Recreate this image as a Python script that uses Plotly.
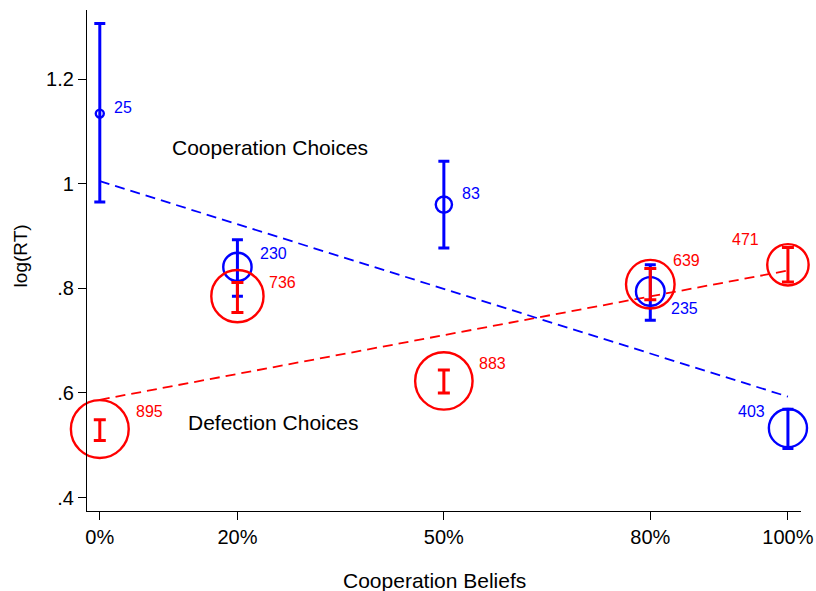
import plotly.graph_objects as go

# ---- data ----
beliefs = [0, 20, 50, 80, 100]
tick_labels = ["0%", "20%", "50%", "80%", "100%"]

coop_mean = [1.134, 0.841, 0.960, 0.794, 0.533]
coop_lo = [0.965, 0.785, 0.877, 0.739, 0.494]
coop_hi = [1.306, 0.893, 1.043, 0.845, 0.569]
coop_n = [25, 230, 83, 235, 403]
coop_fit = [1.005, 0.593]

def_mean = [0.531, 0.785, 0.623, 0.808, 0.845]
def_lo = [0.509, 0.754, 0.600, 0.778, 0.812]
def_hi = [0.549, 0.811, 0.644, 0.838, 0.878]
def_n = [895, 736, 883, 639, 471]
def_fit = [0.587, 0.834]
fit_x = [0, 100]

x_title = "Cooperation Beliefs"
y_title = "log(RT)"

# label placement (pixel offsets, anchor) – style only
coop_lab = [(12, 6, "left"), (21, 13, "left"), (16, 11, "left"), (19, -17, "left"), (-21, 17, "right")]
def_lab = [(34, 18, "left"), (30, 14, "left"), (33, 17, "left"), (21, 24, "left"), (-27, 25, "right")]

BLUE = "#0000ff"
RED = "#ff0000"
FONT = "Liberation Sans, Arial, Helvetica, sans-serif"

fig = go.Figure()


def add_group(mean, lo, hi, n, color, capw):
    fig.add_trace(go.Scatter(
        x=beliefs, y=mean, mode="markers", cliponaxis=False,
        marker=dict(symbol="circle-open", size=[2 * v ** 0.5 - 2 for v in n],
                    color=color, opacity=1, line=dict(width=2.4, color=color)),
        error_y=dict(type="data", symmetric=False,
                     array=[h - m for h, m in zip(hi, mean)],
                     arrayminus=[m - l for m, l in zip(mean, lo)],
                     color=color, thickness=3, width=capw),
        showlegend=False, hoverinfo="skip"))


fig.add_trace(go.Scatter(x=fit_x, y=def_fit, mode="lines",
                         line=dict(color=RED, width=1.8, dash="10px,6px"),
                         showlegend=False, hoverinfo="skip"))
fig.add_trace(go.Scatter(x=fit_x, y=coop_fit, mode="lines",
                         line=dict(color=BLUE, width=1.8, dash="10px,6px"),
                         showlegend=False, hoverinfo="skip"))
add_group(coop_mean, coop_lo, coop_hi, coop_n, BLUE, 5.5)
add_group(def_mean, def_lo, def_hi, def_n, RED, 6)

annotations = []
for xs, ys, ns, labs, col in [(beliefs, coop_mean, coop_n, coop_lab, BLUE),
                               (beliefs, def_mean, def_n, def_lab, RED)]:
    for x, y, n, (dx, dy, anc) in zip(xs, ys, ns, labs):
        annotations.append(dict(x=x, y=y, text=str(n), showarrow=False,
                                xanchor=anc, yanchor="middle",
                                xshift=dx, yshift=dy,
                                font=dict(color=col, size=16, family=FONT)))

annotations.append(dict(x=24.8, y=1.069, text="Cooperation Choices", showarrow=False,
                        xanchor="center", yanchor="middle",
                        font=dict(color="black", size=21, family=FONT)))
annotations.append(dict(x=25.1, y=0.543, text="Defection Choices", showarrow=False,
                        xanchor="center", yanchor="middle",
                        font=dict(color="black", size=21, family=FONT)))
# axis titles
annotations.append(dict(x=48.6, xref="x", y=0, yref="paper", yshift=-69,
                        text=x_title, showarrow=False, xanchor="center", yanchor="middle",
                        font=dict(color="black", size=21, family=FONT)))
annotations.append(dict(x=0, xref="paper", xshift=-66.5, y=0.862, yref="y",
                        text=y_title, showarrow=False, textangle=-90,
                        xanchor="center", yanchor="middle",
                        font=dict(color="black", size=19, family=FONT)))

fig.update_layout(
    width=816, height=591,
    margin=dict(l=87, r=15, t=10, b=80),
    paper_bgcolor="white", plot_bgcolor="white",
    font=dict(family=FONT, size=20, color="black"),
    annotations=annotations,
    xaxis=dict(range=[-1.86, 101.9], tickvals=beliefs, ticktext=tick_labels,
               showgrid=False, zeroline=False, showline=True, linecolor="black",
               linewidth=1.3, ticks="outside", ticklen=8, tickcolor="black",
               tickwidth=1.2, tickfont=dict(size=20), automargin=False),
    yaxis=dict(range=[0.3744, 1.332], tickvals=[0.4, 0.6, 0.8, 1.0, 1.2],
               ticktext=[".4", ".6", ".8", "1", "1.2"],
               showgrid=False, zeroline=False, showline=True, linecolor="black",
               linewidth=1.3, ticks="outside", ticklen=8, tickcolor="black",
               tickwidth=1.2, tickfont=dict(size=20), automargin=False),
)

fig.write_html("out.html", config={"displayModeBar": False},
               post_script="document.body.style.margin='0';")
